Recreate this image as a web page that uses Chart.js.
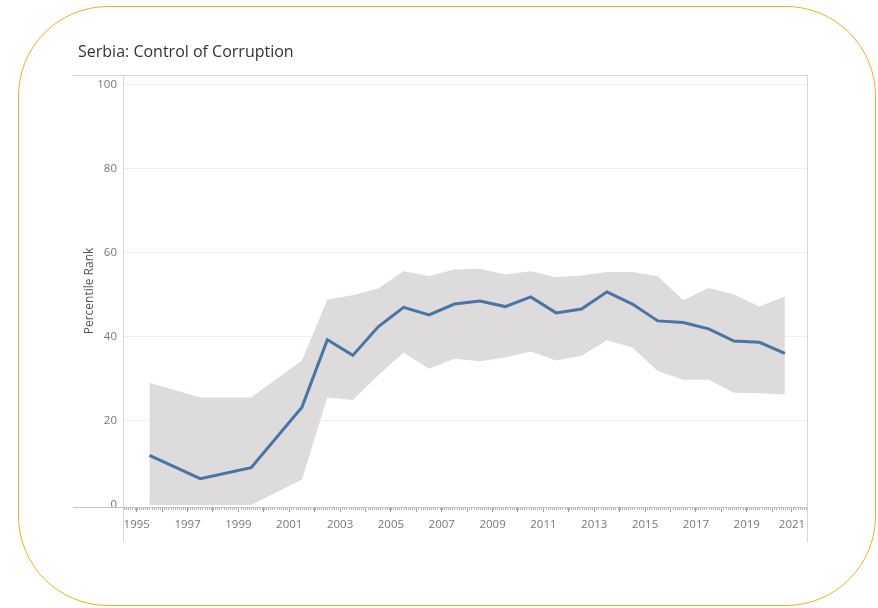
<!DOCTYPE html>
<html>
<head>
<meta charset="utf-8">
<script src="https://cdn.jsdelivr.net/npm/chart.js@4"></script>
<style>
  body { margin: 0; background: #fff; }
  #frame {
    position: absolute; left: 18px; top: 6px;
    width: 856px; height: 598px;
    border: 1.5px solid #f3ad22; border-radius: 90px;
  }
  #wrap { position: absolute; left: 0; top: 0; width: 878px; height: 608px; }
</style>
</head>
<body>
<div id="frame"></div>
<div id="wrap"><canvas id="myChart" width="878" height="608"></canvas></div>
<script>
  const years = [1996, 1998, 2000, 2002, 2003, 2004, 2005, 2006, 2007, 2008, 2009,
    2010, 2011, 2012, 2013, 2014, 2015, 2016, 2017, 2018, 2019, 2020, 2021];
  const percentileRank = [11.8, 6.3, 8.9, 23.3, 39.3, 35.6, 42.4, 47.0, 45.2, 47.8, 48.5,
    47.2, 49.5, 45.7, 46.6, 50.7, 47.8, 43.8, 43.4, 41.9, 39.0, 38.7, 36.1];
  const lowerBound = [0, 0, 0, 6.1, 25.6, 25.0, 30.9, 36.3, 32.4, 34.8, 34.2,
    35.1, 36.5, 34.4, 35.5, 39.2, 37.5, 31.9, 29.8, 29.8, 26.7, 26.6, 26.3];
  const upperBound = [29.1, 25.6, 25.6, 34.4, 48.9, 49.9, 51.5, 55.6, 54.5, 56.0, 56.2,
    54.8, 55.6, 54.2, 54.6, 55.4, 55.4, 54.4, 48.7, 51.6, 50.1, 47.2, 49.6];
  const yTicks = [0, 20, 40, 60, 80, 100];
  const xLabels = ['1995', '1997', '1999', '2001', '2003', '2005', '2007', '2009',
    '2011', '2013', '2015', '2017', '2019', '2021'];

  const font = 'Open Sans';
  const toPoints = arr => years.map((yr, i) => ({ x: yr, y: arr[i] }));

  // tableau-like frame lines + monthly minor ticks
  const framePlugin = {
    id: 'frame',
    afterDraw(chart) {
      const { ctx, chartArea: a } = chart;
      const xs = chart.scales.x;
      ctx.save();
      ctx.lineWidth = 1;
      ctx.strokeStyle = '#d6d6d6';
      ctx.beginPath();
      ctx.moveTo(73, a.top + 0.5); ctx.lineTo(a.right, a.top + 0.5);
      ctx.moveTo(a.left + 0.5, a.top); ctx.lineTo(a.left + 0.5, a.bottom + 35);
      ctx.moveTo(a.right - 0.5, a.top); ctx.lineTo(a.right - 0.5, a.bottom + 35);
      ctx.stroke();
      ctx.strokeStyle = '#c4c4c4';
      ctx.beginPath();
      ctx.moveTo(73, a.bottom + 0.5); ctx.lineTo(a.right, a.bottom + 0.5);
      ctx.stroke();
      ctx.strokeStyle = '#b5b5b5';
      ctx.beginPath();
      for (let m = 0; m < 27 * 12; m++) {
        const px = Math.round(xs.getPixelForValue(1995 + m / 12)) + 0.5;
        if (px <= a.left + 1 || px >= a.right - 1) continue;
        ctx.moveTo(px, a.bottom + 1); ctx.lineTo(px, a.bottom + 3);
      }
      ctx.stroke();
      ctx.restore();
    }
  };

  const chartData = {
    datasets: [{
      label: 'Lower',
      data: toPoints(lowerBound),
      borderWidth: 0,
      pointRadius: 0,
      fill: false,
      order: 1
    }, {
      label: 'Upper',
      data: toPoints(upperBound),
      borderWidth: 0,
      pointRadius: 0,
      backgroundColor: '#dddbdb',
      fill: '-1',
      order: 1
    }, {
      label: 'Percentile Rank',
      data: toPoints(percentileRank),
      borderColor: '#4a74a3',
      borderWidth: 3,
      pointRadius: 0,
      fill: false,
      order: 0
    }]
  };

  const chartConfig = {
    type: 'line',
    data: chartData,
    options: {
      responsive: false,
      animation: false,
      layout: { padding: { left: 78, right: 70, top: 43, bottom: 61 } },
      plugins: {
        legend: { display: false },
        tooltip: { enabled: false },
        title: {
          display: true,
          text: 'Serbia: Control of Corruption',
          align: 'start',
          color: '#333',
          font: { family: font, size: 16, weight: 'normal', lineHeight: 1.2 },
          padding: { top: 0, bottom: 12.8 }
        }
      },
      scales: {
        x: {
          type: 'linear',
          min: 1994.96,
          max: 2021.91,
          border: { display: false },
          grid: { drawOnChartArea: false, tickLength: 5, tickColor: '#9a9a9a' },
          afterBuildTicks: scale => {
            const t = [];
            for (let yr = 1995; yr <= 2021; yr++) t.push({ value: yr === 2021 ? yr + 0.28 : yr + 0.5 });
            scale.ticks = t;
          },
          afterFit: scale => { scale.height = 40; },
          ticks: {
            autoSkip: false,
            maxRotation: 0,
            padding: 6,
            color: '#777',
            font: { family: font, size: 11.5 },
            callback: v => {
              const s = String(Math.floor(v));
              return xLabels.includes(s) ? s : '';
            }
          }
        },
        y: {
          min: -0.45,
          max: 102.26,
          border: { display: false },
          grid: {
            drawTicks: false,
            color: c => (c.tick && c.tick.value === 0) ? 'rgba(0,0,0,0)' : '#efefef'
          },
          afterBuildTicks: scale => { scale.ticks = yTicks.map(v => ({ value: v })); },
          afterFit: scale => { scale.width = 45; },
          ticks: {
            padding: 6,
            color: '#777',
            font: { family: font, size: 11.5 }
          },
          title: {
            display: true,
            text: 'Percentile Rank',
            color: '#555',
            font: { family: font, size: 12 },
            padding: { top: 4, bottom: 0 }
          }
        }
      }
    },
    plugins: [framePlugin]
  };

  const chartCanvas = document.getElementById('myChart');
  const myChart = new Chart(chartCanvas.getContext('2d'), chartConfig);
</script>
</body>
</html>
